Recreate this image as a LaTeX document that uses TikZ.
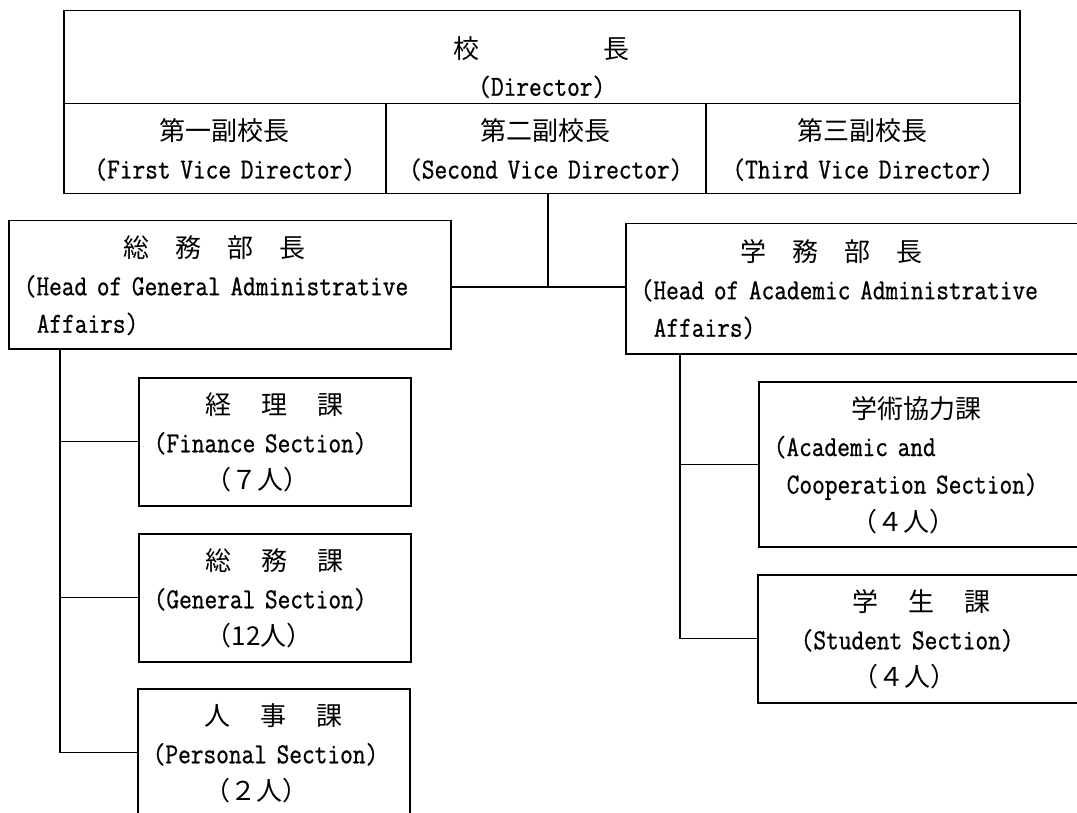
\documentclass[tikz,border=0pt]{standalone}
\usepackage{fontspec}
\setmonofont[FakeStretch=0.85, FakeBold=0.8]{Latin Modern Mono}
\newfontfamily\cjk{Noto Sans CJK JP}
\newcommand\J[1]{{\cjk\fontsize{26}{37.5}\selectfont #1}}
\newcommand\hs[1]{\hspace*{#1pt}}
\newcommand\st{\rule{0pt}{29pt}}
\newcommand\sd{\rule[-8pt]{0pt}{8pt}}
\begin{document}
\begin{tikzpicture}[x=1pt,y=-1pt,
  box/.style={draw, line width=1.5pt, anchor=north west, inner ysep=0pt, inner xsep=15pt,
              font=\fontsize{29}{37.5}\selectfont\ttfamily},
  link/.style={line width=1.4pt}]
\fill[white] (0,0) rectangle (1077,813);
\useasboundingbox (0,0) rectangle (1077,813);
\clip (0,0) rectangle (1077,813);

% top table
\node[box, align=center, text width=926pt, minimum height=93pt] (director) at (63,10)
  {\rule{0pt}{47.5pt}\J{校\hspace{124pt}長}\\(Director)\sd};
\node[box, align=center, text width=292pt, minimum height=90pt] (vice1) at (63,103)
  {\rule{0pt}{30pt}\J{第一副校長}\\(First Vice Director)\sd};
\node[box, align=center, text width=290pt, minimum height=90pt] (vice2) at (385,103)
  {\rule{0pt}{30pt}\J{第二副校長}\\(Second Vice Director)\sd};
\node[box, align=center, text width=284pt, minimum height=90pt] (vice3) at (705,103)
  {\rule{0pt}{30pt}\J{第三副校長}\\(Third Vice Director)\sd};

% heads
\node[box, align=left, text width=412pt, minimum height=128pt] (genadmin) at (8,220)
  {\st\hs{100}\J{総\hspace{26pt}務\hspace{26pt}部\hspace{26pt}長}\\(Head of General Administrative\\\hs{13}Affairs)\sd};
\node[box, align=left, text width=475pt, minimum height=130pt] (acadadmin) at (625,223)
  {\st\hs{100}\J{学\hspace{26pt}務\hspace{26pt}部\hspace{26pt}長}\\(Head of Academic Administrative\\\hs{13}Affairs)\sd};

% left sections
\node[box, align=left, text width=242pt, minimum height=128pt] (finance) at (138,377)
  {\st\hs{52}\J{経\hspace{30pt}理\hspace{30pt}課}\\(Finance Section)\\\hs{52}\J{（７人）}\sd};
\node[box, align=left, text width=242pt, minimum height=128pt] (general) at (138,533)
  {\st\hs{52}\J{総\hspace{30pt}務\hspace{30pt}課}\\(General Section)\\\hs{52}\J{（12人）}\sd};
\node[box, align=left, text width=242pt, minimum height=128pt] (personal) at (137,688)
  {\st\hs{52}\J{人\hspace{30pt}事\hspace{30pt}課}\\(Personal Section)\\\hs{52}\J{（２人）}\sd};

% right sections
\node[box, align=left, text width=370pt, minimum height=165pt] (acadcoop) at (758,381)
  {\st\hs{78}\J{学術協力課}\\(Academic and\\\hs{13}Cooperation Section)\\\hs{78}\J{（４人）}\sd};
\node[box, align=left, text width=370pt, minimum height=128pt] (student) at (757,574)
  {\st\hs{80}\J{学\hspace{30pt}生\hspace{30pt}課}\\\hs{28}(Student Section)\\\hs{80}\J{（４人）}\sd};

% connectors
\coordinate (j) at (548,287);
\coordinate (lx) at (60,0);
\coordinate (rx) at (680,0);
\draw[link] (j |- vice2.south) -- (j);
\draw[link] (genadmin.east |- j) -- (acadadmin.west |- j);
\draw[link] (lx |- genadmin.south) -- (lx |- personal.west) -- (personal.west);
\draw[link] (lx |- finance.west) -- (finance.west);
\draw[link] (lx |- general.west) -- (general.west);
\draw[link] (rx |- acadadmin.south) -- (rx |- student.west) -- (student.west);
\draw[link] (rx |- acadcoop.west) -- (acadcoop.west);
\end{tikzpicture}
\end{document}
